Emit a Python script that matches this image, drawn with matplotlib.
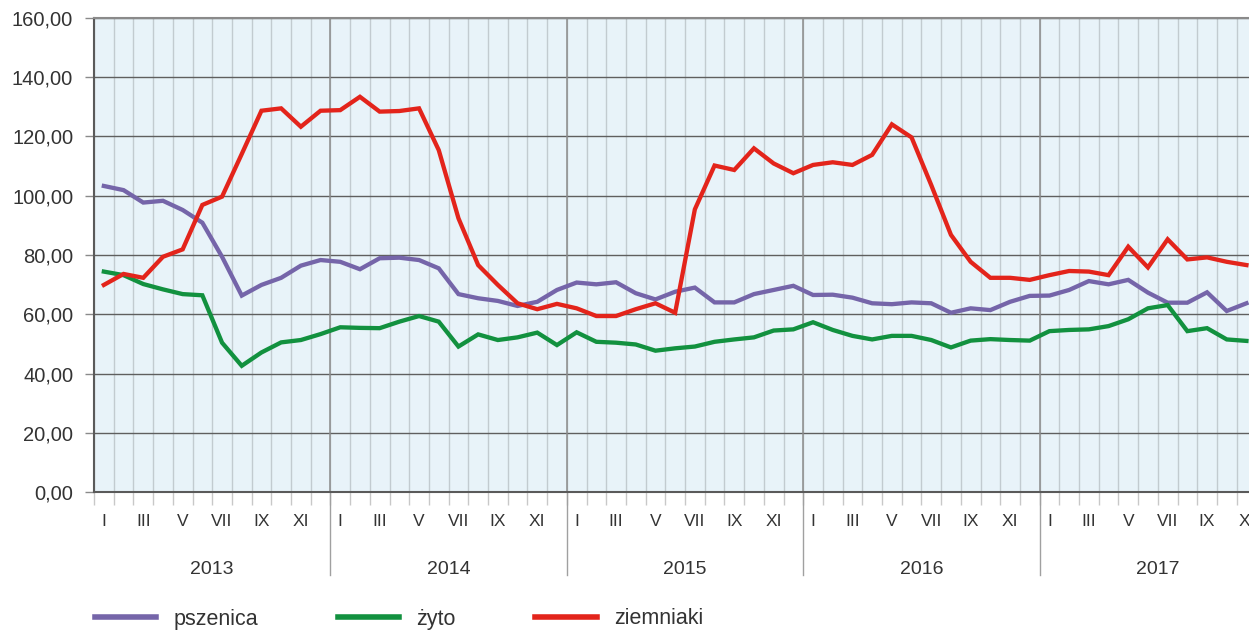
import matplotlib
matplotlib.use("Agg")
import matplotlib.pyplot as plt
import matplotlib.transforms as mtransforms
import numpy as np

plt.rcParams['font.family'] = ['Liberation Sans', 'DejaVu Sans']

years = ['2013', '2014', '2015', '2016', '2017']
month_names = ['I', 'II', 'III', 'IV', 'V', 'VI', 'VII', 'VIII', 'IX', 'X', 'XI', 'XII']
n_months = 59  # I 2013 - XI 2017

pszenica = [103.3, 101.9, 97.7, 98.3, 95.2, 90.9, 79.4, 66.3, 69.9, 72.3, 76.4, 78.3,
            77.7, 75.2, 78.9, 79.1, 78.3, 75.5, 66.8, 65.4, 64.5, 62.8, 64.2, 68.2,
            70.7, 70.1, 70.8, 67.1, 65.0, 67.6, 69.0, 64.0, 64.0, 66.8, 68.2, 69.6,
            66.5, 66.6, 65.6, 63.7, 63.4, 64.0, 63.7, 60.5, 62.0, 61.4, 64.2, 66.2,
            66.3, 68.2, 71.2, 70.1, 71.6, 67.3, 63.9, 63.9, 67.4, 61.1, 63.7]
zyto = [74.4, 73.2, 70.2, 68.4, 66.8, 66.4, 50.4, 42.6, 47.1, 50.5, 51.3, 53.3,
        55.6, 55.4, 55.3, 57.5, 59.4, 57.5, 49.1, 53.2, 51.3, 52.2, 53.8, 49.6,
        53.9, 50.7, 50.4, 49.8, 47.7, 48.5, 49.1, 50.7, 51.5, 52.2, 54.5, 54.9,
        57.3, 54.7, 52.7, 51.5, 52.7, 52.7, 51.3, 48.8, 51.1, 51.6, 51.3, 51.1,
        54.3, 54.7, 54.9, 56.0, 58.3, 62.0, 63.1, 54.3, 55.3, 51.5, 51.0]
ziemniaki = [69.9, 73.6, 72.3, 79.4, 81.9, 96.9, 99.7, 114.1, 128.7, 129.5, 123.3, 128.7,
             128.9, 133.4, 128.4, 128.6, 129.5, 115.4, 92.4, 76.6, 69.9, 63.7, 61.7, 63.5,
             62.0, 59.4, 59.4, 61.7, 63.7, 60.5, 95.4, 110.2, 108.7, 116.0, 110.9, 107.6,
             110.4, 111.3, 110.4, 113.8, 124.1, 119.7, 103.6, 86.8, 77.7, 72.3, 72.3, 71.6,
             73.2, 74.6, 74.4, 73.2, 82.8, 75.8, 85.3, 78.5, 79.2, 77.7, 76.6]

series = [('pszenica', pszenica, '#7565A9'),
          ('żyto', zyto, '#12913F'),
          ('ziemniaki', ziemniaki, '#E3241B')]

W, H = 1249, 630
fig = plt.figure(figsize=(W / 100, H / 100), dpi=100)
month_px = 19.7
ax = fig.add_axes([94 / W, 138 / H, n_months * month_px / W, 474 / H])
ax.set_facecolor('#E8F3F9')

x = np.arange(n_months) + 0.5
lines = []
for name, vals, col in series:
    ln, = ax.plot(x, vals, color=col, lw=3.1, solid_joinstyle='miter', label=name, zorder=5)
    lines.append(ln)

ax.set_xlim(0, n_months)
ax.set_ylim(0, 160)

# y axis
ax.set_yticks(np.arange(0, 161, 20))
ax.set_yticklabels([f"{v:.2f}".replace('.', ',') for v in np.arange(0, 161, 20)])
ax.tick_params(axis='y', length=6.5, width=1, color='#8a8a8a', pad=8.5,
               labelsize=14.5, labelcolor='#333333')
ax.yaxis.grid(True, color='#5f5f5f', lw=1.0, zorder=2)

# x axis: month boundaries as major ticks, month labels as minor ticks
ax.set_xticks(np.arange(0, n_months + 1))
ax.set_xticklabels([])
ax.tick_params(axis='x', which='major', length=9.5, width=1, color='#c8c8c8', direction='out')
ax.xaxis.grid(True, which='major', color='#c2cbd0', lw=1.0, zorder=1)
lab_pos = [i + 0.5 for i in range(n_months) if i % 2 == 0]
lab_txt = [month_names[i % 12] for i in range(n_months) if i % 2 == 0]
ax.set_xticks(lab_pos, minor=True)
ax.set_xticklabels(lab_txt, minor=True)
ax.tick_params(axis='x', which='minor', length=0, pad=16, labelsize=12.5, labelcolor='#333333')

# year separators and labels
trans = mtransforms.blended_transform_factory(ax.transData, ax.transAxes)
for k, yr in enumerate(years):
    start = 12 * k
    if k > 0:
        ax.axvline(start, color='#8c8c8c', lw=1.1, zorder=2)
        ax.plot([start, start], [0, -0.175], color='#a0a0a0', lw=1.0,
                transform=trans, clip_on=False)
    ax.text(start + 6, -0.163, yr, transform=trans, ha='center', va='center',
            fontsize=14, color='#333333')

for s in ['left', 'bottom', 'top']:
    ax.spines[s].set_color('#5a5a5a')
    ax.spines[s].set_linewidth(1.5)
ax.spines['top'].set_color('#8a8a8a')
ax.spines['right'].set_visible(False)

leg = fig.legend(handles=lines, loc='center left', bbox_to_anchor=(95 / W, 1 - 619 / H),
                 ncol=3, frameon=False, fontsize=15.5, handlelength=2.85, handletextpad=0.8,
                 columnspacing=3.7, borderpad=0, borderaxespad=0)
for t in leg.get_texts():
    t.set_color('#333333')
for h in leg.legend_handles:
    h.set_linewidth(4)

fig.savefig('out.png', dpi=100)
